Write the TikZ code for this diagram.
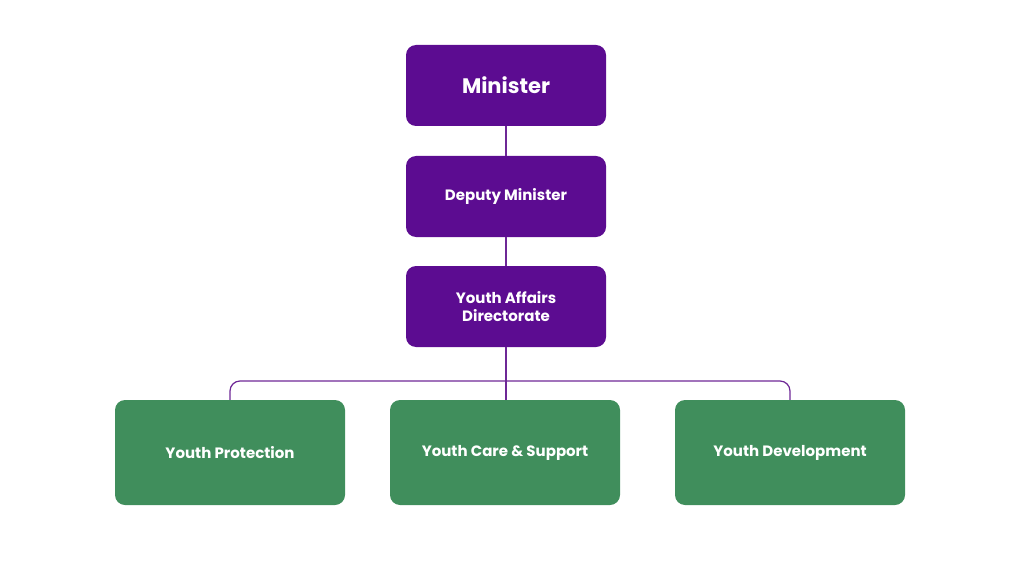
\documentclass[tikz,border=0pt]{standalone}
\usepackage{fontspec}
\setmainfont{Poppins}
\begin{document}
\begin{tikzpicture}[x=1pt,y=-1pt,
  pbox/.style={draw=none,fill={rgb,255:red,92;green,12;blue,145},rounded corners=10pt,text=white,font=\bfseries\fontsize{15}{18}\selectfont,align=center,minimum width=200pt,minimum height=81pt,inner sep=0pt},
  gbox/.style={draw=none,fill={rgb,255:red,64;green,142;blue,92},rounded corners=10pt,text=white,font=\bfseries\fontsize{15}{18}\selectfont,align=center,minimum width=230pt,minimum height=105pt,inner sep=0pt},
  link/.style={draw={rgb,255:red,110;green,40;blue,150},line width=1.2pt}]
\useasboundingbox (0,0) rectangle (1024,580);
\node[pbox,font=\bfseries\fontsize{21}{25}\selectfont] (min) at (506,85.5) {Minister};
\node[pbox] (dep) at (506,196.5) {Deputy Minister};
\node[pbox] (dir) at (506,306.5) {Youth Affairs\\Directorate};
\node[gbox] (yp) at (230,452.5) {Youth Protection};
\node[gbox] (yc) at (505,452.5) {Youth Care \& Support};
\node[gbox] (yd) at (790,452.5) {Youth Development};
\coordinate (j) at (506,381);
\draw[link] (min) -- (dep);
\draw[link] (dep) -- (dir);
\draw[link] (dir) -- (j);
\draw[link,rounded corners=10pt] (yp.north) |- (j) -| (yd.north);
\draw[link] (j) -- (506,400);
\end{tikzpicture}
\end{document}
